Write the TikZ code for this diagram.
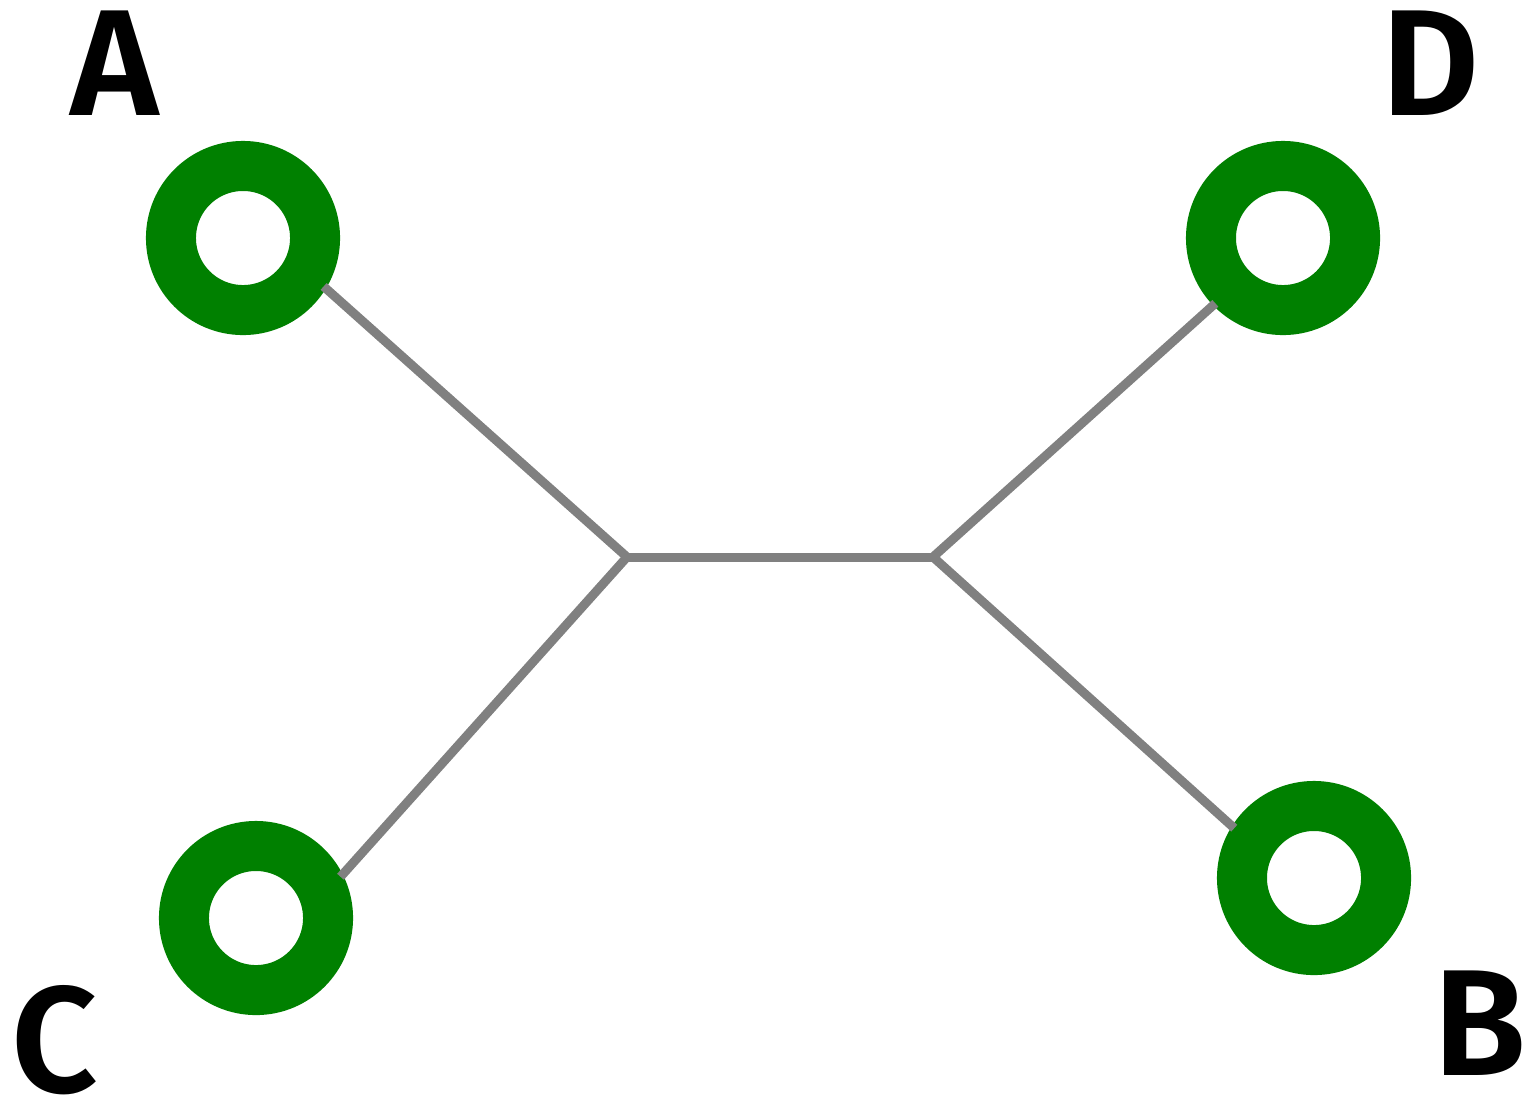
\documentclass[tikz,border=0pt]{standalone}
\usepackage{fontspec}
\setmainfont{Fira Sans}[BoldFont={Fira Sans SemiBold}]
\definecolor{ringgreen}{RGB}{0,128,0}
\definecolor{edgegray}{RGB}{128,128,128}
\begin{document}
\begin{tikzpicture}[x=0.01cm,y=-0.01cm,
  ring/.style={circle,draw=ringgreen,line width=0.5cm,minimum size=1.44cm,inner sep=0pt,outer sep=0.22cm},
  edge/.style={draw=edgegray,line width=0.09cm,line cap=butt},
  lbl/.style={inner sep=0pt,font=\fontsize{43}{43}\selectfont\bfseries}]
\useasboundingbox (0,0) rectangle (1531,1099);
\node[ring] (A) at (243,238) {};
\node[ring] (D) at (1283,238) {};
\node[ring] (C) at (256,918) {};
\node[ring] (B) at (1314,878) {};
\coordinate (i1) at (627,557);
\coordinate (i2) at (933,557);
\draw[edge] (A.-31.5) -- (i1);
\draw[edge] (C.26) -- (i1);
\draw[edge] (i1) -- (i2);
\draw[edge] (D.224.6) -- (i2);
\draw[edge] (B.148.2) -- (i2);
\node[lbl] (lA) at (115,63) {A};
\node[lbl] (lD) at (1431,63) {D};
\node[lbl,anchor=west] (lC) at (11,1040) {C};
\node[lbl,anchor=east] (lB) at (1527,1023) {B};
\end{tikzpicture}
\end{document}
